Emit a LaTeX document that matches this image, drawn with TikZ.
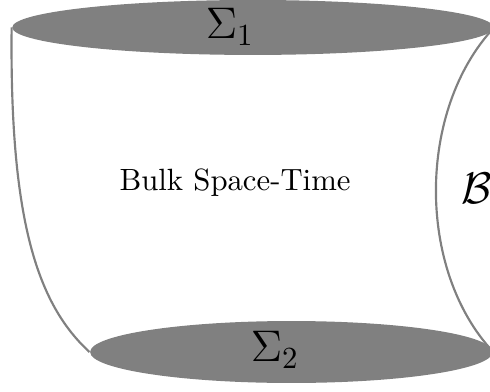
\documentclass[tikz,border=0pt]{standalone}
\usepackage{tikz}
\usetikzlibrary{
  positioning,
  shapes.geometric
}
\usepackage{amsmath,amssymb}
\usepackage{xcolor}
\definecolor{slice}{HTML}{808080}

\begin{document}
\begin{tikzpicture}[
  slice/.style={ellipse, fill=slice, draw=none, inner sep=0pt},
  wall/.style={draw=slice, line width=0.7pt},
  lbl/.style={font=\Large, inner sep=0pt}
]
  \useasboundingbox (0,0) rectangle (5.6,4.48);

  % Cauchy slices
  \node[slice, minimum width=5.5cm, minimum height=0.628cm] (sig1) at (2.89, 4.166) {};
  \node[slice, minimum width=4.6cm, minimum height=0.708cm] (sig2) at (3.33, 0.457) {};

  % Boundary walls
  \draw[wall] (sig1.west) .. controls +(-0.023,-2.194) and +(-0.6,0.55) .. (sig2.west);
  \draw[wall] (sig1.east) .. controls +(-0.88,-0.94) and +(-0.88,0.94) .. (sig2.east);

  % Labels
  \node[lbl] (s1) at (2.629, 4.172) {$\Sigma_1$};
  \node[lbl] (s2) at (3.143, 0.480) {$\Sigma_2$};
  \node (bulk) at (2.686, 2.389) {Bulk Space-Time};
  \node[lbl] (bdry) at (5.45, 2.332) {$\mathcal{B}$};
\end{tikzpicture}
\end{document}
